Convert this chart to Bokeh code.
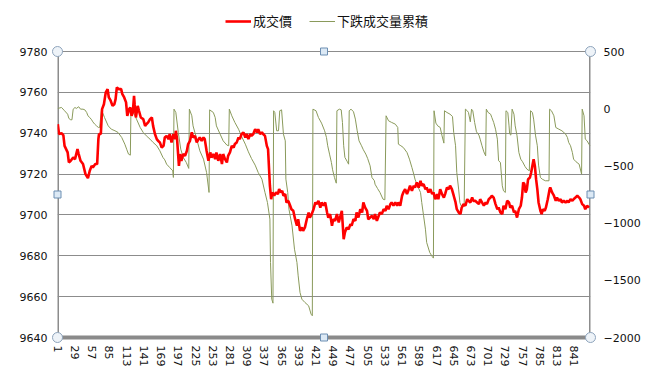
from bokeh.plotting import figure
from bokeh.models import (LinearAxis, Range1d, FixedTicker, Legend, LegendItem,
                          ColumnDataSource)
from bokeh.embed import file_html
from bokeh.resources import INLINE

# ---------------- data ----------------
N_POINTS = 867
x_tick_labels = [1, 29, 57, 85, 113, 141, 169, 197, 225, 253, 281, 309, 337, 365,
                 393, 421, 449, 477, 505, 533, 561, 589, 617, 645, 673, 701, 729,
                 757, 785, 813, 841]
left_ticks = [9640, 9660, 9680, 9700, 9720, 9740, 9760, 9780]
right_ticks = [-2000, -1500, -1000, -500, 0, 500]

price_idx = [1, 3, 7, 10, 12, 17, 19, 22, 26, 29, 33, 35, 38, 42, 46, 50, 53, 56, 58, 62,
             65, 67, 68, 71, 73, 76, 79, 82, 84, 87, 90, 93, 95, 97, 100, 104, 106, 109,
             112, 114, 117, 119, 121, 123, 125, 126, 128, 131, 133, 136, 140, 143, 145,
             148, 151, 154, 156, 159, 162, 164, 167, 170, 173, 175,
             178, 181, 183, 186, 189, 192, 193, 195, 198, 200, 202, 205, 208, 211, 213,
             216, 219, 221, 224, 227, 230, 232, 235, 238, 240, 243, 246, 249, 251, 254,
             257, 259, 262, 265, 268, 270, 273, 276, 278, 281, 284, 287, 289, 292, 295,
             297, 300, 303, 306, 308, 311, 314, 316, 319, 322, 325, 327, 330, 333, 335,
             338, 341, 343, 346, 348, 350, 353, 356, 359, 361, 364, 366, 368, 371, 373,
             376, 379, 381, 384, 387, 390, 392, 395, 398, 400, 403, 406, 409, 411, 414,
             417, 420, 422, 425, 428, 430, 433, 436, 439, 441, 444, 447, 449, 452, 455,
             458, 460, 463, 466, 468, 471, 474, 477, 479, 482, 485, 487, 490, 493, 496,
             498, 501, 504, 506,
             509, 512, 515, 517, 520, 523, 525, 528, 531, 534, 536, 539, 542, 544, 547,
             550, 553, 555, 558, 561, 563, 566, 569, 572, 574, 577, 580, 582, 585, 588,
             591, 593, 596, 599, 601, 604, 607, 610, 612, 615, 618, 620, 623, 626, 629,
             631, 634, 637, 639, 642, 645, 648, 650, 653, 656, 658, 661, 664, 667, 669,
             672, 675, 677,
             680, 683, 686, 688, 691, 694, 697, 699, 702, 705, 707, 710, 713, 716, 718,
             721, 724, 726, 729, 732, 735, 737, 740, 743, 745, 748, 751, 754, 756, 758,
             760, 762, 764, 766, 769, 771, 773, 775, 777, 779, 781, 783, 786, 788, 790,
             793, 795, 798, 801, 802, 805, 808, 811, 813, 816, 819, 821, 824, 827, 830,
             832, 835, 838, 840, 843, 846, 849, 851, 854, 857, 859, 862, 865]
price_val = [9744.4, 9739.6, 9740.0, 9739.1, 9733.8, 9730.6, 9725.7, 9726.5, 9728.1, 9727.3,
             9732.2, 9729.8, 9726.5, 9724.9, 9720.0, 9718.0, 9721.6, 9724.0, 9723.2, 9724.9,
             9724.9, 9737.1, 9739.6, 9739.6, 9751.8, 9754.2, 9760.0, 9761.6, 9757.5, 9755.9,
             9753.4, 9754.2, 9756.7, 9762.4, 9761.6, 9761.6, 9759.1, 9757.5, 9755.1, 9748.5,
             9751.8, 9752.6, 9748.5, 9750.2, 9758.3, 9754.2, 9747.7, 9753.4, 9751.0, 9747.7,
             9746.9, 9743.6, 9744.4, 9745.3, 9746.9, 9747.7, 9743.6, 9739.6, 9737.1, 9736.3,
             9735.5, 9733.0, 9733.8, 9737.9,
             9738.7, 9737.1, 9739.6, 9735.5, 9739.6, 9737.1, 9741.2, 9737.1, 9724.0, 9729.8,
             9726.5, 9729.8, 9729.0, 9731.4, 9734.7, 9736.3, 9740.4, 9737.9, 9738.7, 9735.5,
             9737.1, 9737.9, 9736.3, 9737.9, 9737.1, 9731.4, 9726.5, 9730.6, 9728.1, 9729.8,
             9727.3, 9730.6, 9726.5, 9729.8, 9724.9, 9729.8, 9727.3, 9725.7, 9728.9, 9730.6,
             9733.8, 9733.0, 9734.7, 9735.5, 9737.9, 9737.1, 9739.6, 9740.4, 9737.9, 9739.6,
             9737.1, 9739.6, 9738.7, 9739.6, 9742.0, 9740.4, 9742.0, 9739.6, 9740.4, 9739.6,
             9738.7, 9733.8, 9732.2, 9714.3, 9707.7, 9711.0, 9709.4, 9711.0, 9710.2, 9712.6,
             9711.0, 9711.8, 9709.4, 9710.2, 9706.1, 9706.9, 9704.5, 9702.8, 9702.0, 9697.9,
             9694.7, 9697.9, 9692.2, 9693.9, 9692.2, 9693.9, 9697.9, 9701.2, 9698.7, 9700.4,
             9702.8, 9706.1, 9705.3, 9706.9, 9703.6, 9706.1, 9704.5, 9706.1, 9701.2, 9698.7,
             9700.4, 9694.7, 9697.9, 9697.1, 9700.4, 9696.3, 9698.7, 9702.0, 9688.1, 9691.4,
             9693.9, 9693.0, 9695.5, 9694.7, 9697.9, 9697.1, 9701.2, 9698.7, 9702.8, 9701.2,
             9706.1, 9703.6, 9702.0, 9697.9,
             9698.7, 9699.6, 9697.9, 9700.4, 9697.1, 9699.6, 9701.2, 9700.4, 9702.8, 9702.0,
             9704.5, 9702.8, 9705.3, 9706.1, 9704.5, 9706.1, 9704.5, 9706.1, 9704.5, 9709.4,
             9711.0, 9712.6, 9710.2, 9712.6, 9714.3, 9711.8, 9714.3, 9713.4, 9715.9, 9713.4,
             9716.7, 9714.3, 9715.1, 9712.6, 9713.4, 9711.0, 9712.6, 9710.2, 9711.0, 9707.7,
             9710.2, 9707.7, 9712.6, 9710.2, 9708.5, 9710.2, 9713.4, 9712.6, 9714.3, 9712.6,
             9709.4, 9706.1, 9702.8, 9701.2, 9700.4, 9703.6, 9705.3, 9704.5, 9707.7, 9706.9,
             9706.1, 9708.5, 9706.9,
             9706.9, 9706.1, 9705.3, 9707.7, 9706.1, 9704.5, 9706.1, 9705.3, 9707.7, 9708.5,
             9709.4, 9708.5, 9705.3, 9702.8, 9703.6, 9701.2, 9700.4, 9704.5, 9702.8, 9706.9,
             9706.1, 9703.6, 9704.5, 9701.2, 9702.0, 9698.7, 9702.8, 9704.5, 9708.5, 9715.9,
             9715.1, 9711.0, 9712.6, 9717.5, 9718.3, 9720.8, 9724.1, 9727.3, 9724.0, 9717.5,
             9712.6, 9706.1, 9702.0, 9700.4, 9702.8, 9702.0, 9703.6, 9707.7, 9712.6, 9713.4,
             9711.0, 9709.4, 9706.9, 9708.5, 9706.9, 9707.7, 9706.1, 9706.9, 9706.1, 9706.9,
             9706.1, 9707.7, 9706.9, 9707.7, 9708.5, 9709.4, 9708.5, 9707.7, 9705.3, 9704.5,
             9702.8, 9704.5, 9703.6]

down_idx = [1, 7, 12, 17, 19, 22, 24, 26, 29, 31, 35, 38, 42, 45, 48, 50, 53, 56, 58, 61,
            64, 67, 69, 72, 77, 83, 88, 94, 99, 105, 110, 113, 116, 119, 120, 124, 129,
            135, 140, 145, 151, 156, 162, 167, 172, 175,
            178, 183, 188, 189, 190, 193, 197, 201, 205, 210, 214, 215, 219, 221, 227,
            232, 238, 243, 247, 248, 254, 257, 259, 265, 270, 276, 279, 280, 284, 289,
            295, 300, 306, 311, 316, 322, 327, 333,
            338, 342, 346, 347, 349, 351, 352, 354, 357, 360, 362, 365, 368, 371, 372,
            375, 377, 382, 386, 390, 392, 395, 398, 403, 409, 413, 415, 416, 421, 425,
            430, 435, 438, 440, 443, 446, 448, 451, 454, 455, 459, 462, 464, 466, 468,
            472, 474, 475, 478, 482, 485, 488, 491, 495, 498, 502, 505, 509, 512, 516,
            517, 521, 525, 530, 533, 535, 539, 544, 550, 554, 555, 559, 563, 569, 573,
            577, 580, 582, 586, 591, 593, 596, 599, 601, 606, 610, 612, 613, 616, 619,
            623, 626, 629, 630, 634, 639, 643, 645, 648, 650, 653, 655, 657, 662, 664,
            667, 669, 672, 674, 676, 679, 682,
            686, 688, 691, 694, 697, 698, 701, 705, 707, 710, 713, 716, 718, 721, 724,
            726, 729, 730, 733, 735, 736, 738, 740, 743, 745, 748, 751, 754, 757, 761,
            764, 768, 770, 773, 775, 778, 781, 783, 786, 789, 794, 800, 801, 804, 808,
            811, 816, 821, 827, 830, 832, 835, 838, 840, 844, 849, 853, 854, 857, 859,
            862, 865, 867]
down_val = [2, 11, -18, -48, -85, -97, -97, -4, 11, 2, 17, -4, -4, -10, -33, -62, -77, -97,
            -115, -135, -150, -164, -164, -10, -77, -150, -179, -193, -208, -252, -310,
            -354, -397, -406, 2, -33, -91, -164, -208, -237, -266, -295, -324, -368, -426,
            -447,
            -485, -514, -543, -601, -4, -33, -208, -354, -426, -470, -522, -4, -62, -150,
            -266, -368, -441, -558, -732, -10, -33, -77, -150, -222, -281, -318, -324, -4,
            -62, -120, -179, -243, -310, -377, -435, -493, -558, -616,
            -732, -820, -965, -1344, -1665, -1700, -18, -33, -193, -193, -18, -10, -222,
            -281, -616, -732, -878, -1024, -1228, -1344, -1461, -1607, -1665, -1694, -1723,
            -1796, -1810, -4, -18, -77, -126, -193, -252, -324, -397, -470, -534, -601,
            -651, -18, -4, -10, -120, -324, -426, -464, -485, -18, -4, -27, -91, -193, -281,
            -324, -359, -397, -435, -499, -601, -630,
            -660, -697, -732, -791, -796, -62, -106, -120, -135, -164, -310, -324, -339,
            -383, -441, -514, -572, -616, -674, -732, -820, -936, -1053, -1169, -1257,
            -1292, -1306, -18, -126, -150, -164, -237, -301, -18, -33, -48, -68, -208, -324,
            -558, -703, -820, -849, -855, -4, -18, -33, -115, -4, -18, -120, -202,
            -231, -266, -324, -377, -412, -4, -33, -48, -77, -120, -179, -266, -455, -470,
            -674, -718, -732, -18, -33, -150, -222, -231, -4, -48, -150, -237, -383, -441,
            -464, -505, -528, -543, -18, -33, -91, -231, -324, -493, -601, -616, -630, -630,
            -4, -18, -62, -164, -179, -193, -222, -252, -295, -324, -383, -441, -464, -485,
            -572, -4, -62, -266, -281, -310, -324]

SERIES_PRICE = "成交價"
SERIES_DOWN = "下跌成交量累積"

# ---------------- layout constants (pixels) ----------------
FIG_W, FIG_H = 646, 380
B_LEFT, B_RIGHT, B_TOP, B_BOTTOM = 57, 56, 3, 43
PLOT_PX = 286          # height of the visible plot area
EXTRA_PX = FIG_H - B_TOP - B_BOTTOM - PLOT_PX   # headroom for the legend

X0, X1 = 0.5, N_POINTS + 0.5
Y0, Y1 = left_ticks[0], left_ticks[-1]
R0, R1 = right_ticks[0], right_ticks[-1]
Y_TOP = Y1 + (Y1 - Y0) * EXTRA_PX / PLOT_PX
R_TOP = R1 + (R1 - R0) * EXTRA_PX / PLOT_PX

GRID = "#8c8c8c"
FONT = "DejaVu Sans"
CJK = "Noto Sans CJK TC"

p = figure(width=FIG_W, height=FIG_H,
           min_border_left=B_LEFT, min_border_right=B_RIGHT,
           min_border_top=B_TOP, min_border_bottom=B_BOTTOM,
           x_range=Range1d(X0, X1), y_range=Range1d(Y0, Y_TOP),
           output_backend="svg", toolbar_location=None, tools="")
p.extra_y_ranges = {"vol": Range1d(R0, R_TOP)}
p.background_fill_color = "white"
p.border_fill_color = "white"
p.outline_line_color = None


def style_axis(ax, standoff):
    ax.major_tick_line_color = None
    ax.minor_tick_line_color = None
    ax.major_tick_out = 0
    ax.major_tick_in = 0
    ax.major_label_standoff = standoff
    ax.major_label_text_font = FONT
    ax.major_label_text_font_size = "11px"
    ax.major_label_text_color = "#111111"


ya = p.yaxis[0]
ya.ticker = FixedTicker(ticks=left_ticks)
ya.axis_line_color = None
style_axis(ya, 10)

ra = LinearAxis(y_range_name="vol", ticker=FixedTicker(ticks=right_ticks))
ra.axis_line_color = None
style_axis(ra, 13)
p.add_layout(ra, "right")

xa = p.xaxis[0]
xa.ticker = FixedTicker(ticks=x_tick_labels)
xa.axis_line_color = "#8a8a8a"
xa.axis_line_width = 4
xa.major_label_orientation = "vertical"
style_axis(xa, 8)

p.xgrid.grid_line_color = None
p.ygrid.ticker = FixedTicker(ticks=left_ticks)
p.ygrid.grid_line_color = GRID
p.ygrid.grid_line_width = 1

# vertical borders of the plot area (left / right value axes)
p.segment(x0=[X0, X1], y0=[Y0, Y0], x1=[X0, X1], y1=[Y1, Y1],
          line_color=GRID, line_width=3)

src_p = ColumnDataSource(dict(x=price_idx, y=price_val))
src_d = ColumnDataSource(dict(x=down_idx, y=down_val))

r_down = p.line("x", "y", source=src_d, y_range_name="vol",
                line_color="#8a9a5b", line_width=1)
r_price = p.line("x", "y", source=src_p, line_color="#ff0000", line_width=2.6)

# plot-area selection handles (decoration)
XM = (X0 + X1) / 2
YM = (Y0 + Y1) / 2
p.scatter(x=[X0, X1, X0, X1], y=[Y0, Y0, Y1, Y1], marker="circle", size=10,
          fill_color="#eef3f8", line_color="#8ea4bc", line_width=1, level="overlay")
p.scatter(x=[XM, XM, X0, X1], y=[Y0, Y1, YM, YM], marker="square", size=7,
          fill_color="#dce9f5", line_color="#6d8fb3", line_width=1, level="overlay")

legend = Legend(items=[LegendItem(label=SERIES_PRICE, renderers=[r_price]),
                       LegendItem(label=SERIES_DOWN, renderers=[r_down])],
                orientation="horizontal", location=(168, PLOT_PX + 21),
                padding=0, margin=0, spacing=17, glyph_width=26, glyph_height=16,
                label_height=16, label_standoff=2,
                label_text_font=CJK, label_text_font_size="13px",
                label_text_color="#111111",
                background_fill_alpha=0, border_line_color=None)
p.add_layout(legend, "center")

open("out.html", "w").write(file_html(p, INLINE))
